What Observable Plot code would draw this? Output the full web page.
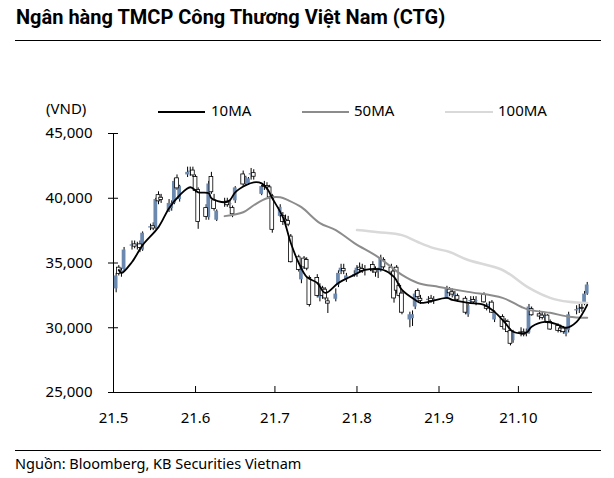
<!DOCTYPE html>
<html><head><meta charset="utf-8">
<script src="https://cdn.jsdelivr.net/npm/d3@7"></script>
<script src="https://cdn.jsdelivr.net/npm/@observablehq/plot@0.6"></script>
<style>
body{margin:0;background:#fff;}
#wrap{position:relative;width:614px;height:478px;font-family:"Noto Sans",sans-serif;color:#000;overflow:hidden;}
#title{position:absolute;left:16px;top:5px;font-family:Roboto,sans-serif;font-weight:700;font-size:20px;white-space:nowrap;}
.rule{position:absolute;left:15px;width:586px;border-top:1.5px solid #000;}
#chart{position:absolute;left:0;top:50px;}
#unit{position:absolute;left:46px;top:98px;font-size:15px;}
.lg{position:absolute;top:111px;height:0;}
.lgt{position:absolute;top:100px;font-size:15px;}
#source{position:absolute;left:15px;top:453px;font-size:14.5px;white-space:nowrap;}
</style></head><body>
<div id="wrap">
<div id="title">Ngân hàng TMCP Công Thương Việt Nam (CTG)</div>
<div class="rule" style="top:40px"></div>
<div id="chart"></div>
<div id="unit">(VND)</div>
<div class="lg" style="left:158px;width:47px;border-top:2px solid #000"></div>
<div class="lgt" style="left:211px">10MA</div>
<div class="lg" style="left:302px;width:47px;border-top:2px solid #8c8c8c"></div>
<div class="lgt" style="left:354px">50MA</div>
<div class="lg" style="left:445px;width:48px;border-top:2.5px solid #d9d9d9"></div>
<div class="lgt" style="left:498px">100MA</div>
<div class="rule" style="top:450px"></div>
<div id="source">Nguồn: Bloomberg, KB Securities Vietnam</div>
</div>
<script>
// ---- data (VND) ----
const holidays = ["2021-09-02", "2021-09-03"];
const opens = [
33000,34600,34200,34500,36300,36400,36300,36400,36000,37700,37800,37700,40200,40000,39000,39200,39600,41500,39900,41800,
42000,42100,41600,40600,39200,38500,41600,39800,38300,39600,39700,39500,39200,39800,41800,41100,41100,41800,41900,40300,40900,40900,
40800,40100,38600,38600,38300,38200,37000,35400,33700,35300,35200,33800,33800,32300,33000,32900,32000,32200,33300,34300,34500,33700,
34000,34100,34600,34500,34400,34800,34400,34300,34400,35200,34600,34300,34600,33200,32600,30600,30700,31600,32800,32200,32100,32200,
32100,32300,32900,32700,32400,32400,32200,31000,32000,32100,32000,32500,31600,31700,31900,30600,30800,30500,30400,29700,
29000,29600,29600,29500,29600,31400,31000,30900,30800,30900,30400,30100,29900,29900,29500,29800,31300,31400,31500,31800,32600];
const highs = [
34200,34800,34600,36200,36700,36700,36600,36700,37400,38000,38100,40000,40500,40300,39900,39800,41500,41800,41000,42400,
42400,42400,41800,40800,39500,41300,42000,40300,39100,40000,40000,39800,39400,40900,42100,41700,41600,42300,42200,41000,41300,41200,
41000,40300,39500,38900,38700,38600,37200,35600,34800,35500,35400,34000,34100,33400,33200,33100,32300,33000,34400,34900,34900,34200,
34400,34800,35000,34900,34800,35100,34700,34600,35600,35400,34900,34500,34800,33400,32800,31200,31300,32800,33000,32500,32400,32500,
32400,33200,33100,33000,32800,32600,32400,31800,32400,32400,32400,32700,31900,32000,32100,31300,31000,30700,30600,29900,
29800,30000,29900,29900,31800,31600,31300,31200,31100,31000,30600,30300,30200,30100,30000,31200,31700,31800,31800,32800,33500];
const lows = [
32700,34000,33900,34300,36000,36100,36000,35800,35900,37500,37500,37600,39500,39600,38900,39000,39500,40600,39700,41600,
41700,41600,40400,37600,38300,38300,40300,39000,38200,39300,39300,39200,38500,39600,40900,40900,41000,41400,41400,40200,40600,40600,
39900,37300,38500,37900,37800,37800,35000,34300,33400,34500,34400,31600,32300,32000,32200,32100,31100,32000,33100,34100,34100,33500,
33900,33900,34200,34200,34000,34200,33900,33800,34300,34500,34000,31900,32600,32300,31000,30000,30100,31400,32200,31800,31800,31900,
31800,32200,32400,32300,32100,32000,31000,30800,31800,31800,31700,31900,31300,31400,31100,30400,30000,29800,29600,28600,
28800,29300,29300,29300,29500,30900,30600,30600,30500,30300,29800,29600,29600,29500,29300,29600,31000,31100,31200,31700,32500];
const closes = [
34000,34200,34400,36000,36400,36300,36400,36200,37300,37800,37700,39900,39800,39900,39600,39600,41300,40800,40900,42000,
42100,41800,40600,38200,38600,41100,40500,39200,39000,39700,39500,39600,38800,40800,41100,41600,41500,41900,41700,40900,40900,40800,
40100,37600,39300,38200,38200,38000,35100,34500,34600,34700,34600,31800,32500,33200,32500,32300,31900,32600,34200,34600,34400,34000,
34100,34600,34500,34400,34500,34400,34300,34400,35400,34700,34300,32300,32900,32500,31200,31000,31000,32600,32400,32100,32200,32100,
32200,33000,32700,32600,32600,32200,31200,31700,32100,32000,32100,32000,31500,31800,31200,31200,30100,29900,29700,28800,
29700,29600,29500,29600,31600,31000,30900,30800,30900,30400,29900,29800,29800,29700,29900,31000,31400,31500,31500,32600,33300];

const ma10Dates = ["2021-05-05","2021-05-06","2021-05-10","2021-05-14","2021-05-20","2021-05-24","2021-05-28","2021-06-01","2021-06-04","2021-06-08","2021-06-09","2021-06-14","2021-06-16","2021-06-18","2021-06-22","2021-06-25","2021-06-28","2021-06-30","2021-07-02","2021-07-06","2021-07-09","2021-07-12","2021-07-15","2021-07-19","2021-07-22","2021-07-27","2021-08-02","2021-08-06","2021-08-13","2021-08-17","2021-08-20","2021-08-25","2021-08-27","2021-09-06","2021-09-08","2021-09-14","2021-09-20","2021-09-24","2021-09-28","2021-10-01","2021-10-06","2021-10-08","2021-10-13","2021-10-18","2021-10-21","2021-10-25","2021-10-29"];
const ma10 = [34460,34230,35080,36380,37770,39230,40230,40850,40460,40380,40000,39690,39850,40460,41000,41230,41150,40770,40000,38540,36540,35000,33920,33460,32690,33460,34080,34460,34460,33920,32920,32150,31920,32310,32150,31920,31770,31230,30380,29690,29620,30080,30460,30230,30000,30460,31770];
const ma50Dates = ["2021-06-14","2021-06-21","2021-06-25","2021-06-30","2021-07-05","2021-07-08","2021-07-13","2021-07-20","2021-07-26","2021-08-02","2021-08-11","2021-08-20","2021-08-26","2021-09-03","2021-09-14","2021-09-27","2021-10-04","2021-10-07","2021-10-15","2021-10-22","2021-10-29"];
const ma50 = [38620,38920,39460,40000,40080,39850,39310,38080,37540,36540,35460,34080,33460,33150,32770,32310,31620,31380,31150,30850,30770];
const ma100Dates = ["2021-08-03","2021-08-11","2021-08-20","2021-08-26","2021-09-01","2021-09-07","2021-09-14","2021-09-27","2021-10-07","2021-10-15","2021-10-22","2021-10-29"];
const ma100 = [37540,37380,37150,36620,36150,35850,35230,34460,33080,32310,32000,31920];

const yTicks = [25000, 30000, 35000, 40000, 45000];
const xTickDates = ["2021-05-03","2021-06-03","2021-07-03","2021-08-03","2021-09-03","2021-10-03"];
const xDomain = ["2021-05-03", "2021-10-31"];

// ---- build ----
const parse = d3.utcParse("%Y-%m-%d");
const fmt = d3.utcFormat("%Y-%m-%d");
const days = d3.utcDays(parse("2021-05-04"), parse("2021-10-30"))
  .filter(d => d.getUTCDay() % 6 !== 0 && !holidays.includes(fmt(d)));
const candles = days.map((date, i) => ({date, open: opens[i], high: highs[i], low: lows[i], close: closes[i]}));
const up = candles.filter(d => d.close > d.open);
const down = candles.filter(d => d.close <= d.open);
const series = (ds, vs) => ds.map((d, i) => ({date: parse(d), value: vs[i]}));
const s10 = series(ma10Dates, ma10), s50 = series(ma50Dates, ma50), s100 = series(ma100Dates, ma100);
const xTicks = xTickDates.map(parse);

const W = 614, H = 390, mt = 83, mb = 48, ml = 113, mr = 22;
const pw = W - ml - mr, ph = H - mt - mb;
const blue = "#6b88af";
const half = d => [d3.utcHour.offset(d.date, -17), d3.utcHour.offset(d.date, 17)];

const chart = Plot.plot({
  width: W, height: H, marginTop: mt, marginBottom: mb, marginLeft: ml, marginRight: mr,
  style: {fontFamily: "Noto Sans, sans-serif", fontSize: "15px", color: "#000", background: "#fff", overflow: "visible"},
  x: {type: "utc", domain: xDomain.map(parse)},
  y: {domain: [25000, 45000]},
  marks: [
    Plot.axisY({ticks: yTicks, tickFormat: d3.format(","), tickSize: 5, tickPadding: 16, stroke: "#000", fontSize: 15, label: null}),
    Plot.tickY(yTicks, {y: d => d, insetRight: pw - 5, stroke: "#000"}),
    Plot.axisX({ticks: xTicks, tickFormat: d => `21.${d.getUTCMonth() + 1}`, tickSize: 0, tickPadding: 20, fontSize: 15, label: null}),
    Plot.tickX(xTicks.slice(1), {x: d => d, insetTop: ph - 6, stroke: "#000"}),
    Plot.ruleX([parse(xDomain[0])], {stroke: "#000"}),
    Plot.ruleY([25000], {stroke: "#000"}),
    Plot.ruleX(candles, {x: "date", y1: "low", y2: "high", stroke: "#000", strokeWidth: 1}),
    Plot.rect(up, {x1: d => half(d)[0], x2: d => half(d)[1], y1: "open", y2: "close", fill: blue}),
    Plot.rect(down, {x1: d => half(d)[0], x2: d => half(d)[1], y1: "open", y2: "close", fill: "#fff", stroke: "#000", strokeWidth: 0.8, insetTop: -0.5, insetBottom: -0.5}),
    Plot.line(s100, {x: "date", y: "value", stroke: "#d9d9d9", strokeWidth: 2.5, curve: "catmull-rom"}),
    Plot.line(s50, {x: "date", y: "value", stroke: "#8c8c8c", strokeWidth: 2, curve: "catmull-rom"}),
    Plot.line(s10, {x: "date", y: "value", stroke: "#000", strokeWidth: 1.8, curve: "catmull-rom"})
  ]
});
document.getElementById("chart").appendChild(chart);
</script>
</body></html>
